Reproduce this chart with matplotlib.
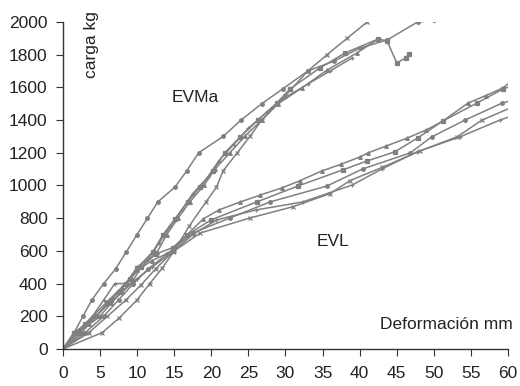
import matplotlib
matplotlib.use("Agg")
import matplotlib.pyplot as plt

plt.rcParams['font.family'] = ['Liberation Sans', 'DejaVu Sans']

# EVMa series
m1_x = [0, 1.5, 2.7, 3.9, 5.5, 7.1, 8.5, 10, 11.4, 12.8, 15.1, 16.7, 18.3, 21.6, 24, 26.8, 29.6, 33, 36.5, 40, 43.7, 47.8, 50]
m1_y = [0, 100, 200, 300, 400, 490, 590, 700, 800, 900, 990, 1090, 1200, 1300, 1400, 1500, 1590, 1700, 1760, 1840, 1890, 2000, 2010]
m2_x = [0, 5.3, 7.6, 10, 11.7, 13.4, 15, 17, 19.3, 20.7, 21.6, 23.5, 25.2, 26.8, 30, 33, 35.6, 38.3, 41]
m2_y = [0, 100, 190, 300, 400, 495, 600, 750, 900, 990, 1090, 1200, 1300, 1400, 1550, 1700, 1800, 1900, 2000]
m3_x = [0, 1.5, 3, 4.5, 6, 7.5, 9, 10, 12.1, 13.5, 15.1, 16.8, 18.5, 20.2, 21.8, 23.9, 26.3, 28.8, 30.6, 34.6, 38, 42.5, 43.7, 45, 46.2, 46.6]
m3_y = [0, 100, 150, 200, 280, 350, 430, 495, 593, 700, 795, 899, 991, 1089, 1199, 1297, 1400, 1504, 1590, 1718, 1810, 1896, 1884, 1749, 1780, 1804]
m4_x = [0, 2, 3.5, 5, 6.5, 8, 9.5, 10.5, 12.7, 14, 15.5, 17.1, 19, 20.5, 22.5, 24.5, 26.8, 29, 32.2, 35.6, 39.6, 42.5]
m4_y = [0, 100, 150, 200, 280, 350, 420, 500, 593, 700, 800, 899, 1000, 1100, 1200, 1300, 1400, 1500, 1596, 1706, 1810, 1896]
m5_x = [0, 2, 4, 5.5, 7, 8.5, 10, 11.5, 13, 14.5, 16, 17.5, 19.5, 21, 23, 25, 27.5, 30, 33, 36, 39]
m5_y = [0, 110, 200, 300, 400, 400, 500, 550, 650, 750, 850, 950, 1050, 1150, 1250, 1350, 1450, 1540, 1620, 1700, 1780]

# EVL series
l1_x = [0, 2, 4, 6, 8, 10, 12, 14.8, 16.7, 18.9, 21, 23.9, 26.5, 29.5, 32, 34.9, 37.5, 40, 41.1, 43.5, 46.4, 49, 51.2, 54.6, 57, 59.3, 60.5]
l1_y = [0, 100, 200, 290, 380, 480, 540, 600, 697, 795, 850, 899, 940, 985, 1030, 1089, 1130, 1174, 1199, 1240, 1290, 1340, 1394, 1504, 1550, 1596, 1640]
l2_x = [0, 2.5, 4.5, 6.5, 8.5, 10.5, 12.5, 14.8, 16.7, 20, 26.1, 31.7, 37.7, 41, 44.7, 47.8, 51.2, 55.8, 59.3, 60.5]
l2_y = [0, 100, 200, 300, 400, 500, 580, 620, 697, 790, 899, 997, 1095, 1150, 1205, 1290, 1394, 1504, 1590, 1610]
l3_x = [0, 3, 5.5, 7.5, 9.5, 11.5, 14, 17.5, 22.5, 27.9, 35.6, 40.4, 46.8, 49.7, 54.2, 59.2, 60.5]
l3_y = [0, 100, 200, 300, 400, 490, 580, 709, 801, 899, 997, 1101, 1199, 1297, 1400, 1504, 1520]
l4_x = [0, 2, 4, 6, 8, 10, 12, 15, 17.5, 20.7, 26, 32.3, 39, 43, 47.7, 53.5, 58.9, 60.5]
l4_y = [0, 100, 180, 270, 350, 430, 500, 600, 700, 789, 850, 899, 1003, 1101, 1205, 1297, 1400, 1425]
l5_x = [0, 3.5, 6, 8.5, 10.5, 12.5, 14.8, 18.5, 25.2, 31, 36, 38.7, 43, 48.1, 53.1, 56.5, 60.5]
l5_y = [0, 100, 200, 300, 390, 490, 593, 709, 801, 870, 950, 1030, 1110, 1211, 1297, 1400, 1478]

x_ticks = list(range(0, 61, 5))
y_ticks = list(range(0, 2001, 200))

series = [
    (m1_x, m1_y, 'o'), (m2_x, m2_y, 'x'), (m3_x, m3_y, 's'), (m4_x, m4_y, '^'), (m5_x, m5_y, '+'),
    (l1_x, l1_y, '^'), (l2_x, l2_y, 's'), (l3_x, l3_y, 'o'), (l4_x, l4_y, '+'), (l5_x, l5_y, 'x'),
]

fig = plt.figure(figsize=(5.2, 3.86), dpi=100)
ax = fig.add_axes([0.121, 0.096, 0.856, 0.847])
col = '#808080'
for xs, ys, mk in series:
    ax.plot(xs, ys, color=col, lw=1.1, marker=mk, ms=2.6, mew=0.9, clip_on=True)

ax.set_xlim(0, 60)
ax.set_ylim(0, 2000)
ax.set_xticks(x_ticks)
ax.set_yticks(y_ticks)
for s in ['top', 'right']:
    ax.spines[s].set_visible(False)
for s in ['left', 'bottom']:
    ax.spines[s].set_color('#333333')
    ax.spines[s].set_linewidth(1.0)
ax.tick_params(direction='out', length=5, color='#333333', labelsize=12.5, labelcolor='#222222')
ax.tick_params(axis='x', pad=7)
ax.tick_params(axis='y', pad=6)

fs = 12.5
ax.text(3.9, 1860, 'carga kg', rotation=90, ha='center', va='center', fontsize=fs, color='#222222', clip_on=False)
ax.text(17.8, 1541, 'EVMa', ha='center', va='center', fontsize=fs, color='#222222')
ax.text(36.4, 655, 'EVL', ha='center', va='center', fontsize=fs, color='#222222')
ax.text(60.6, 147, 'Deformación mm', ha='right', va='center', fontsize=fs, color='#222222')

fig.savefig('out.png', dpi=100)
